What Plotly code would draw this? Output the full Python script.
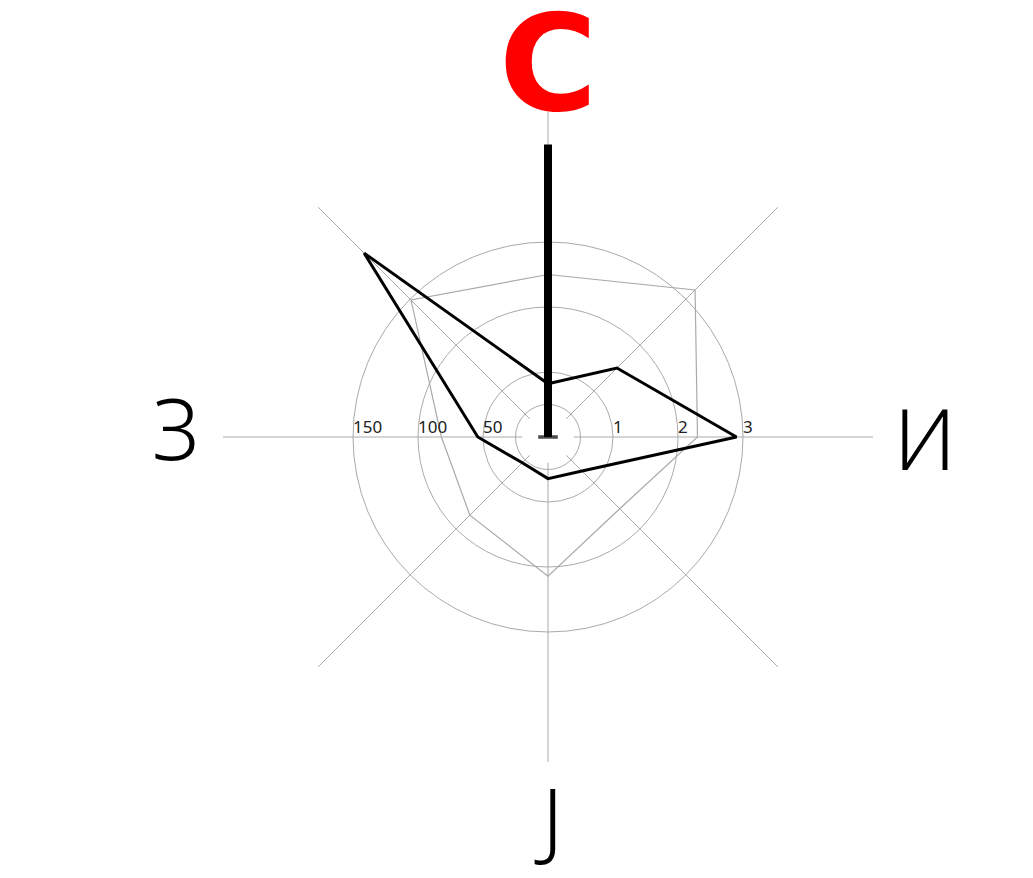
import math
import plotly.graph_objects as go

# ---- data ----
directions = ["С", "СИ", "И", "ЈИ", "Ј", "ЈЗ", "З", "СЗ"]
reference_values = [125, 160, 115, 78, 107, 85, 82, 149]
series_values = [41, 75, 145, 37, 32, 28, 54, 200]
needle_direction = "С"
needle_value = 225
grid_values = [25, 50, 100, 150]
left_tick_values = [50, 100, 150]
left_tick_labels = ["50", "100", "150"]
right_tick_values = [50, 100, 150]
right_tick_labels = ["1", "2", "3"]
cardinal_dirs = ["С", "И", "Ј", "З"]
cardinal_labels = ["<b>С</b>", "И", "Ј", "З"]

GRID = "#aaaaaa"
FONT = "Noto Sans"
R_MAX = 250
HUB = 20          # spokes start a little away from the centre
LABEL_R = 290

fig = go.Figure()

# hub mask so that spokes start slightly off the centre
fig.add_trace(go.Scatterpolar(
    r=[HUB] * (len(directions) + 1), theta=directions + directions[:1],
    mode="lines", fill="toself", fillcolor="white",
    line=dict(color="white", width=0), hoverinfo="skip", showlegend=False))

# reference (gray) polygon
fig.add_trace(go.Scatterpolar(
    r=reference_values + reference_values[:1],
    theta=directions + directions[:1],
    mode="lines", line=dict(color=GRID, width=1.2),
    hoverinfo="skip", showlegend=False))

# data (black) polygon
fig.add_trace(go.Scatterpolar(
    r=series_values + series_values[:1],
    theta=directions + directions[:1],
    mode="lines", line=dict(color="black", width=3),
    showlegend=False))

# needle
fig.add_trace(go.Scatterpolar(
    r=[0, needle_value], theta=[needle_direction, needle_direction],
    mode="lines+markers", line=dict(color="black", width=8),
    marker=dict(symbol=["line-ew", "line-ew"], size=[14, 0],
                line=dict(color="black", width=3.5), color="black"),
    cliponaxis=False, showlegend=False))

# radial tick labels (left and right)
fig.add_trace(go.Scatterpolar(
    r=left_tick_values, theta=["З"] * len(left_tick_values),
    mode="text", text=left_tick_labels, textposition="top right",
    textfont=dict(family=FONT, size=17, color="#222"),
    cliponaxis=False, showlegend=False, hoverinfo="skip"))
fig.add_trace(go.Scatterpolar(
    r=right_tick_values, theta=["И"] * len(right_tick_values),
    mode="text", text=right_tick_labels, textposition="top right",
    textfont=dict(family=FONT, size=17, color="#222"),
    cliponaxis=False, showlegend=False, hoverinfo="skip"))

# cardinal direction labels placed on the polar geometry
label_fonts = ["DejaVu Sans", FONT, FONT, FONT]
label_sizes = [134, 84, 84, 84]
label_colors = ["red", "black", "black", "black"]
label_weights = [700, 300, 300, 300]
label_xshift = [0, 0, 0, 5]
label_yshift = [-4, 0, -3, 10]
for d, txt, fam, sz, col, wt, xs, ys in zip(cardinal_dirs, cardinal_labels, label_fonts,
                                            label_sizes, label_colors, label_weights,
                                            label_xshift, label_yshift):
    ang = math.radians(90 - 45 * directions.index(d))
    frac = 0.5 * LABEL_R / R_MAX
    fig.add_annotation(
        xref="paper", yref="paper",
        x=0.5 + frac * math.cos(ang), y=0.5 + frac * math.sin(ang),
        text=txt, showarrow=False, xanchor="center", yanchor="middle",
        xshift=xs, yshift=ys,
        font=dict(family=fam, size=sz, color=col, weight=wt))

fig.update_layout(
    width=1033, height=878,
    paper_bgcolor="white", plot_bgcolor="white",
    margin=dict(l=215, r=168, t=104, b=124),
    showlegend=False,
    polar=dict(
        bgcolor="white",
        domain=dict(x=[0, 1], y=[0, 1]),
        angularaxis=dict(
            type="category", categoryorder="array", categoryarray=directions,
            rotation=90, direction="clockwise",
            showticklabels=False, ticks="", showline=False,
            showgrid=True, gridcolor=GRID, gridwidth=1),
        radialaxis=dict(
            range=[0, R_MAX], tickmode="array", tickvals=grid_values,
            showticklabels=False, ticks="", showline=False,
            showgrid=True, gridcolor=GRID, gridwidth=1),
    ),
)

fig.write_html("out.html")
